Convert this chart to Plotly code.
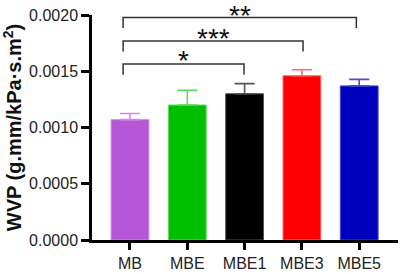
import plotly.graph_objects as go

categories = ["MB", "MBE", "MBE1", "MBE3", "MBE5"]
values = [0.00107, 0.00120, 0.00130, 0.00146, 0.00137]
errors = [0.000055, 0.00013, 0.00009, 0.000053, 0.000058]
fill_colors = ["#b556d6", "#00bf00", "#000000", "#ff0000", "#0000bf"]
edge_colors = ["#cf8ae6", "#5fd95f", "#555555", "#ff6a6a", "#4a4ad6"]
y_ticks = [0.0, 0.0005, 0.0010, 0.0015, 0.0020]
y_tick_labels = ["0.0000", "0.0005", "0.0010", "0.0015", "0.0020"]

# significance brackets: (left index, right index, bar height, leg bottom, label, label y)
brackets = [
    (0, 2, 0.001565, 0.00147, "*", 0.001674),
    (0, 3, 0.001768, 0.001676, "***", 0.00187),
    (0, 4, 0.001977, 0.001884, "**", 0.00208),
]

Y_MAX = 0.002

fig = go.Figure()
for i, c in enumerate(categories):
    fig.add_trace(go.Bar(
        x=[c], y=[values[i]], width=0.66,
        marker=dict(color=fill_colors[i], line=dict(color=edge_colors[i], width=1)),
        error_y=dict(type="data", array=[errors[i]], arrayminus=[0], symmetric=False,
                     color=edge_colors[i], thickness=1.6, width=10),
        showlegend=False,
    ))

pos = {0: -0.12, 2: 1.99, 3: 3.02, 4: 3.95}
for li, ri, yh, yl, lab, ly in brackets:
    x0, x1 = pos[li], pos[ri]
    fig.add_shape(type="path",
                  path=f"M {x0},{yl} L {x0},{yh} L {x1},{yh} L {x1},{yl}",
                  xref="x", yref="y", line=dict(color="#333333", width=1.5))
    fig.add_annotation(x=(x0 + x1) / 2, y=ly / Y_MAX, text=lab, showarrow=False,
                       xref="x", yref="paper", yanchor="middle", yshift=-9,
                       font=dict(family="Liberation Sans, Arial", size=28, color="#111111"))

fig.update_layout(
    width=400, height=274,
    margin=dict(l=92, r=2, t=15, b=29),
    paper_bgcolor="white", plot_bgcolor="white",
    barmode="overlay",
    font=dict(family="Liberation Sans, Arial", color="#222222"),
)
fig.update_xaxes(
    type="category", range=[-0.663, 4.677],
    showline=True, linecolor="black", linewidth=2.5,
    ticks="outside", ticklen=7, tickwidth=2.5, tickcolor="black",
    tickfont=dict(size=16, color="#222222"), showgrid=False,
)
fig.update_yaxes(
    range=[0, Y_MAX], tickvals=y_ticks, ticktext=y_tick_labels,
    showline=True, linecolor="black", linewidth=2.5,
    ticks="outside", ticklen=8, tickwidth=2.5, tickcolor="black",
    tickfont=dict(size=16, color="#222222"), showgrid=False, zeroline=False,
    title=dict(text="<b>WVP (g.mm/kPa·s.m<sup>2</sup>)</b>", font=dict(size=20, color="#111111"), standoff=3),
)

fig.write_html("out.html")
